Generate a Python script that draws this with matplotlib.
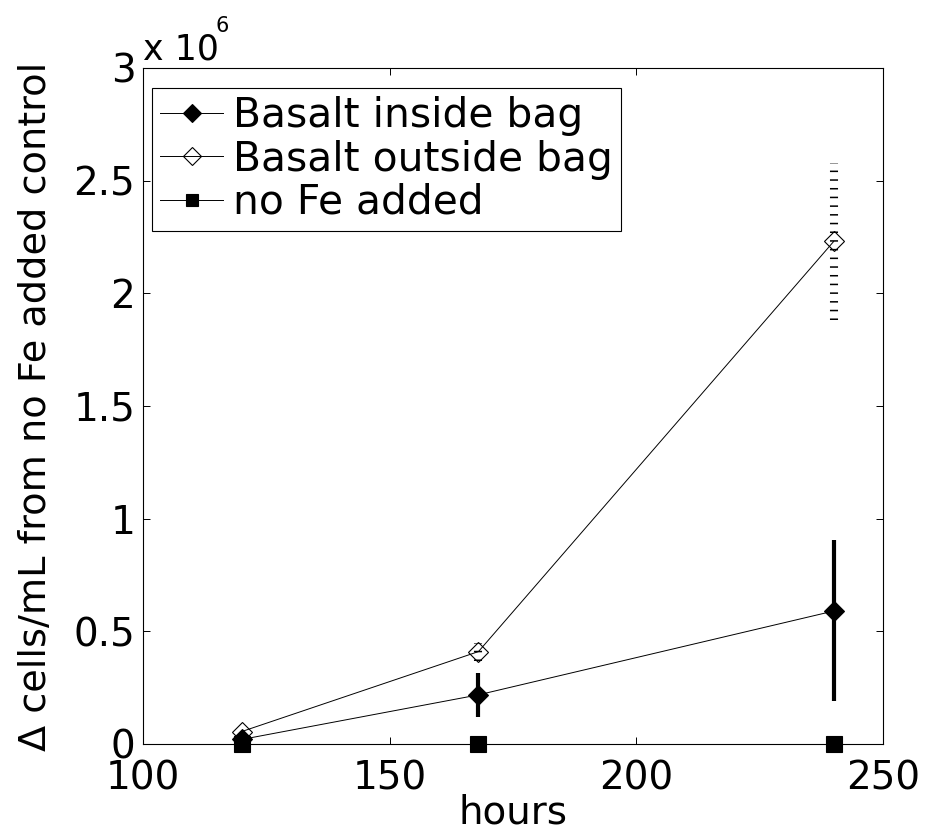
import numpy as np
import matplotlib.pyplot as plt
from matplotlib.ticker import FuncFormatter

# data
hours = [120, 168, 240]
inside_bag = [0.02e6, 0.218e6, 0.59e6]
inside_err_low = [0.0, 0.097e6, 0.40e6]
inside_err_high = [0.0, 0.097e6, 0.315e6]
outside_bag = [0.055e6, 0.41e6, 2.23e6]
outside_err = [0.0, 0.04e6, 0.35e6]
no_fe = [0, 0, 0]

x_ticks = [100, 150, 200, 250]
y_ticks = [0, 0.5e6, 1e6, 1.5e6, 2e6, 2.5e6, 3e6]

plt.rcParams['font.family'] = ['DejaVu Sans']

fig = plt.figure(figsize=(9.25, 8.32), dpi=100)
ax = fig.add_axes([0.1546, 0.1058, 0.8, 0.8125])

# error bars
eb_out = ax.errorbar(hours, outside_bag, yerr=outside_err, fmt='none',
                     ecolor='k', elinewidth=5.8, capsize=0, zorder=2)
eb_out.lines[2][0].set_linestyle((0, (0.19, 0.89)))
ax.errorbar(hours, inside_bag, yerr=[inside_err_low, inside_err_high], fmt='none',
            ecolor='k', elinewidth=3, capsize=0, zorder=2)

# series
l_out, = ax.plot(hours, outside_bag, '-', color='k', lw=0.7, marker='D', ms=10.5,
                 mfc='none', mec='k', mew=0.8, label='Basalt outside bag', zorder=3)
l_in, = ax.plot(hours, inside_bag, '-', color='k', lw=0.7, marker='D', ms=10.5,
                mfc='k', mec='k', mew=0.8, label='Basalt inside bag', zorder=4)
l_fe, = ax.plot(hours, no_fe, '-', color='k', lw=0.7, marker='s', ms=11,
                mfc='k', mec='k', mew=0.8, label='no Fe added', zorder=5, clip_on=False)

ax.set_xlim(100, 250)
ax.set_ylim(0, 3e6)
ax.set_xticks(x_ticks)
ax.set_yticks(y_ticks)
ax.yaxis.set_major_formatter(FuncFormatter(lambda v, p: f'{v / 1e6:g}'))

ax.tick_params(direction='in', length=5, width=0.7, top=True, right=True, labelsize=28)
ax.tick_params(axis='x', pad=11)
ax.tick_params(axis='y', pad=5.5)
for s in ax.spines.values():
    s.set_linewidth(0.8)

ax.set_xlabel('hours', fontsize=28, labelpad=-3)
ax.set_ylabel('\u0394 cells/mL from no Fe added control', fontsize=27.5, labelpad=14)

# MATLAB style exponent label
ax.text(0, 1.0118, 'x 10', transform=ax.transAxes, fontsize=25, ha='left', va='baseline')
ax.text(0.0973, 1.053, '6', transform=ax.transAxes, fontsize=15, ha='left', va='baseline')

leg = ax.legend(handles=[l_in, l_out, l_fe], loc='upper left',
                bbox_to_anchor=(0.0122, 0.970), borderaxespad=0, fontsize=29.3,
                numpoints=1, markerscale=0.85, handlelength=1.55, handletextpad=0.23,
                labelspacing=0.08, borderpad=0.2, fancybox=False, framealpha=1)
leg.get_frame().set_edgecolor('k')
leg.get_frame().set_linewidth(0.8)

fig.savefig('out.png', dpi=100)
